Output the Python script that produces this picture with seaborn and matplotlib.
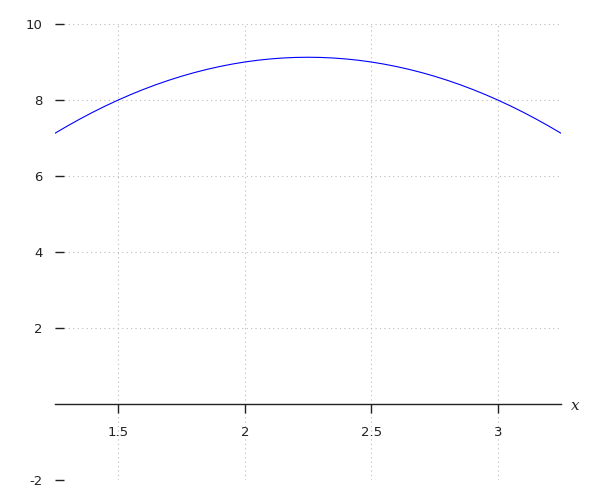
import matplotlib
matplotlib.use('Agg')
import matplotlib.pyplot as plt
import seaborn as sns
import pandas as pd

# values
x_vals = [1.25, 1.30, 1.35, 1.40, 1.45, 1.50, 1.55, 1.60, 1.65, 1.70, 1.75,
          1.80, 1.85, 1.90, 1.95, 2.00, 2.05, 2.10, 2.15, 2.20, 2.25, 2.30,
          2.35, 2.40, 2.45, 2.50, 2.55, 2.60, 2.65, 2.70, 2.75, 2.80, 2.85,
          2.90, 2.95, 3.00, 3.05, 3.10, 3.15, 3.20, 3.25]
y_vals = [7.125, 7.32, 7.505, 7.68, 7.845, 8.0, 8.145, 8.28, 8.405, 8.52, 8.625,
          8.72, 8.805, 8.88, 8.945, 9.0, 9.045, 9.08, 9.105, 9.12, 9.125, 9.12,
          9.105, 9.08, 9.045, 9.0, 8.945, 8.88, 8.805, 8.72, 8.625, 8.52, 8.405,
          8.28, 8.145, 8.0, 7.845, 7.68, 7.505, 7.32, 7.125]
x_ticks = [1.5, 2, 2.5, 3]
x_ticklabels = ['1.5', '2', '2.5', '3']
y_ticks = [-2, 2, 4, 6, 8, 10]
y_ticklabels = ['-2', '2', '4', '6', '8', '10']

df = pd.DataFrame({'x': x_vals, 'y': y_vals})

sns.set_style("white")
fig = plt.figure(figsize=(6, 5), dpi=100)
ax = fig.add_axes([55/600, 20/500, 506/600, 456/500])
sns.lineplot(data=df, x='x', y='y', color='#0000ff', linewidth=0.8, ax=ax)

ax.set_xlim(1.25, 3.25)
ax.set_ylim(-2, 10)
ax.set_xticks(x_ticks)
ax.set_xticklabels(x_ticklabels)
ax.set_yticks(y_ticks)
ax.set_yticklabels(y_ticklabels)
ax.set_xlabel('')
ax.set_ylabel('')

for s in ['top', 'right', 'left']:
    ax.spines[s].set_visible(False)
ax.spines['bottom'].set_position(('data', 0))
ax.spines['bottom'].set_color('#222222')
ax.spines['bottom'].set_linewidth(1)

ax.tick_params(axis='x', direction='out', length=6.5, width=1, color='#222222',
               labelsize=9.5, labelcolor='#222222', pad=9.5, bottom=True)
ax.tick_params(axis='y', direction='in', length=6.5, width=1, color='#222222',
               labelsize=9.5, labelcolor='#222222', pad=9, left=True)

ax.grid(True, linestyle=(0, (1, 3)), color='#bbbbbb', linewidth=0.8)
ax.set_axisbelow(True)

ax.text(3.307, -0.05, 'x', fontsize=11, fontstyle='italic', family='serif',
        ha='center', va='center', color='#222222')

plt.savefig('out.png', dpi=100)
